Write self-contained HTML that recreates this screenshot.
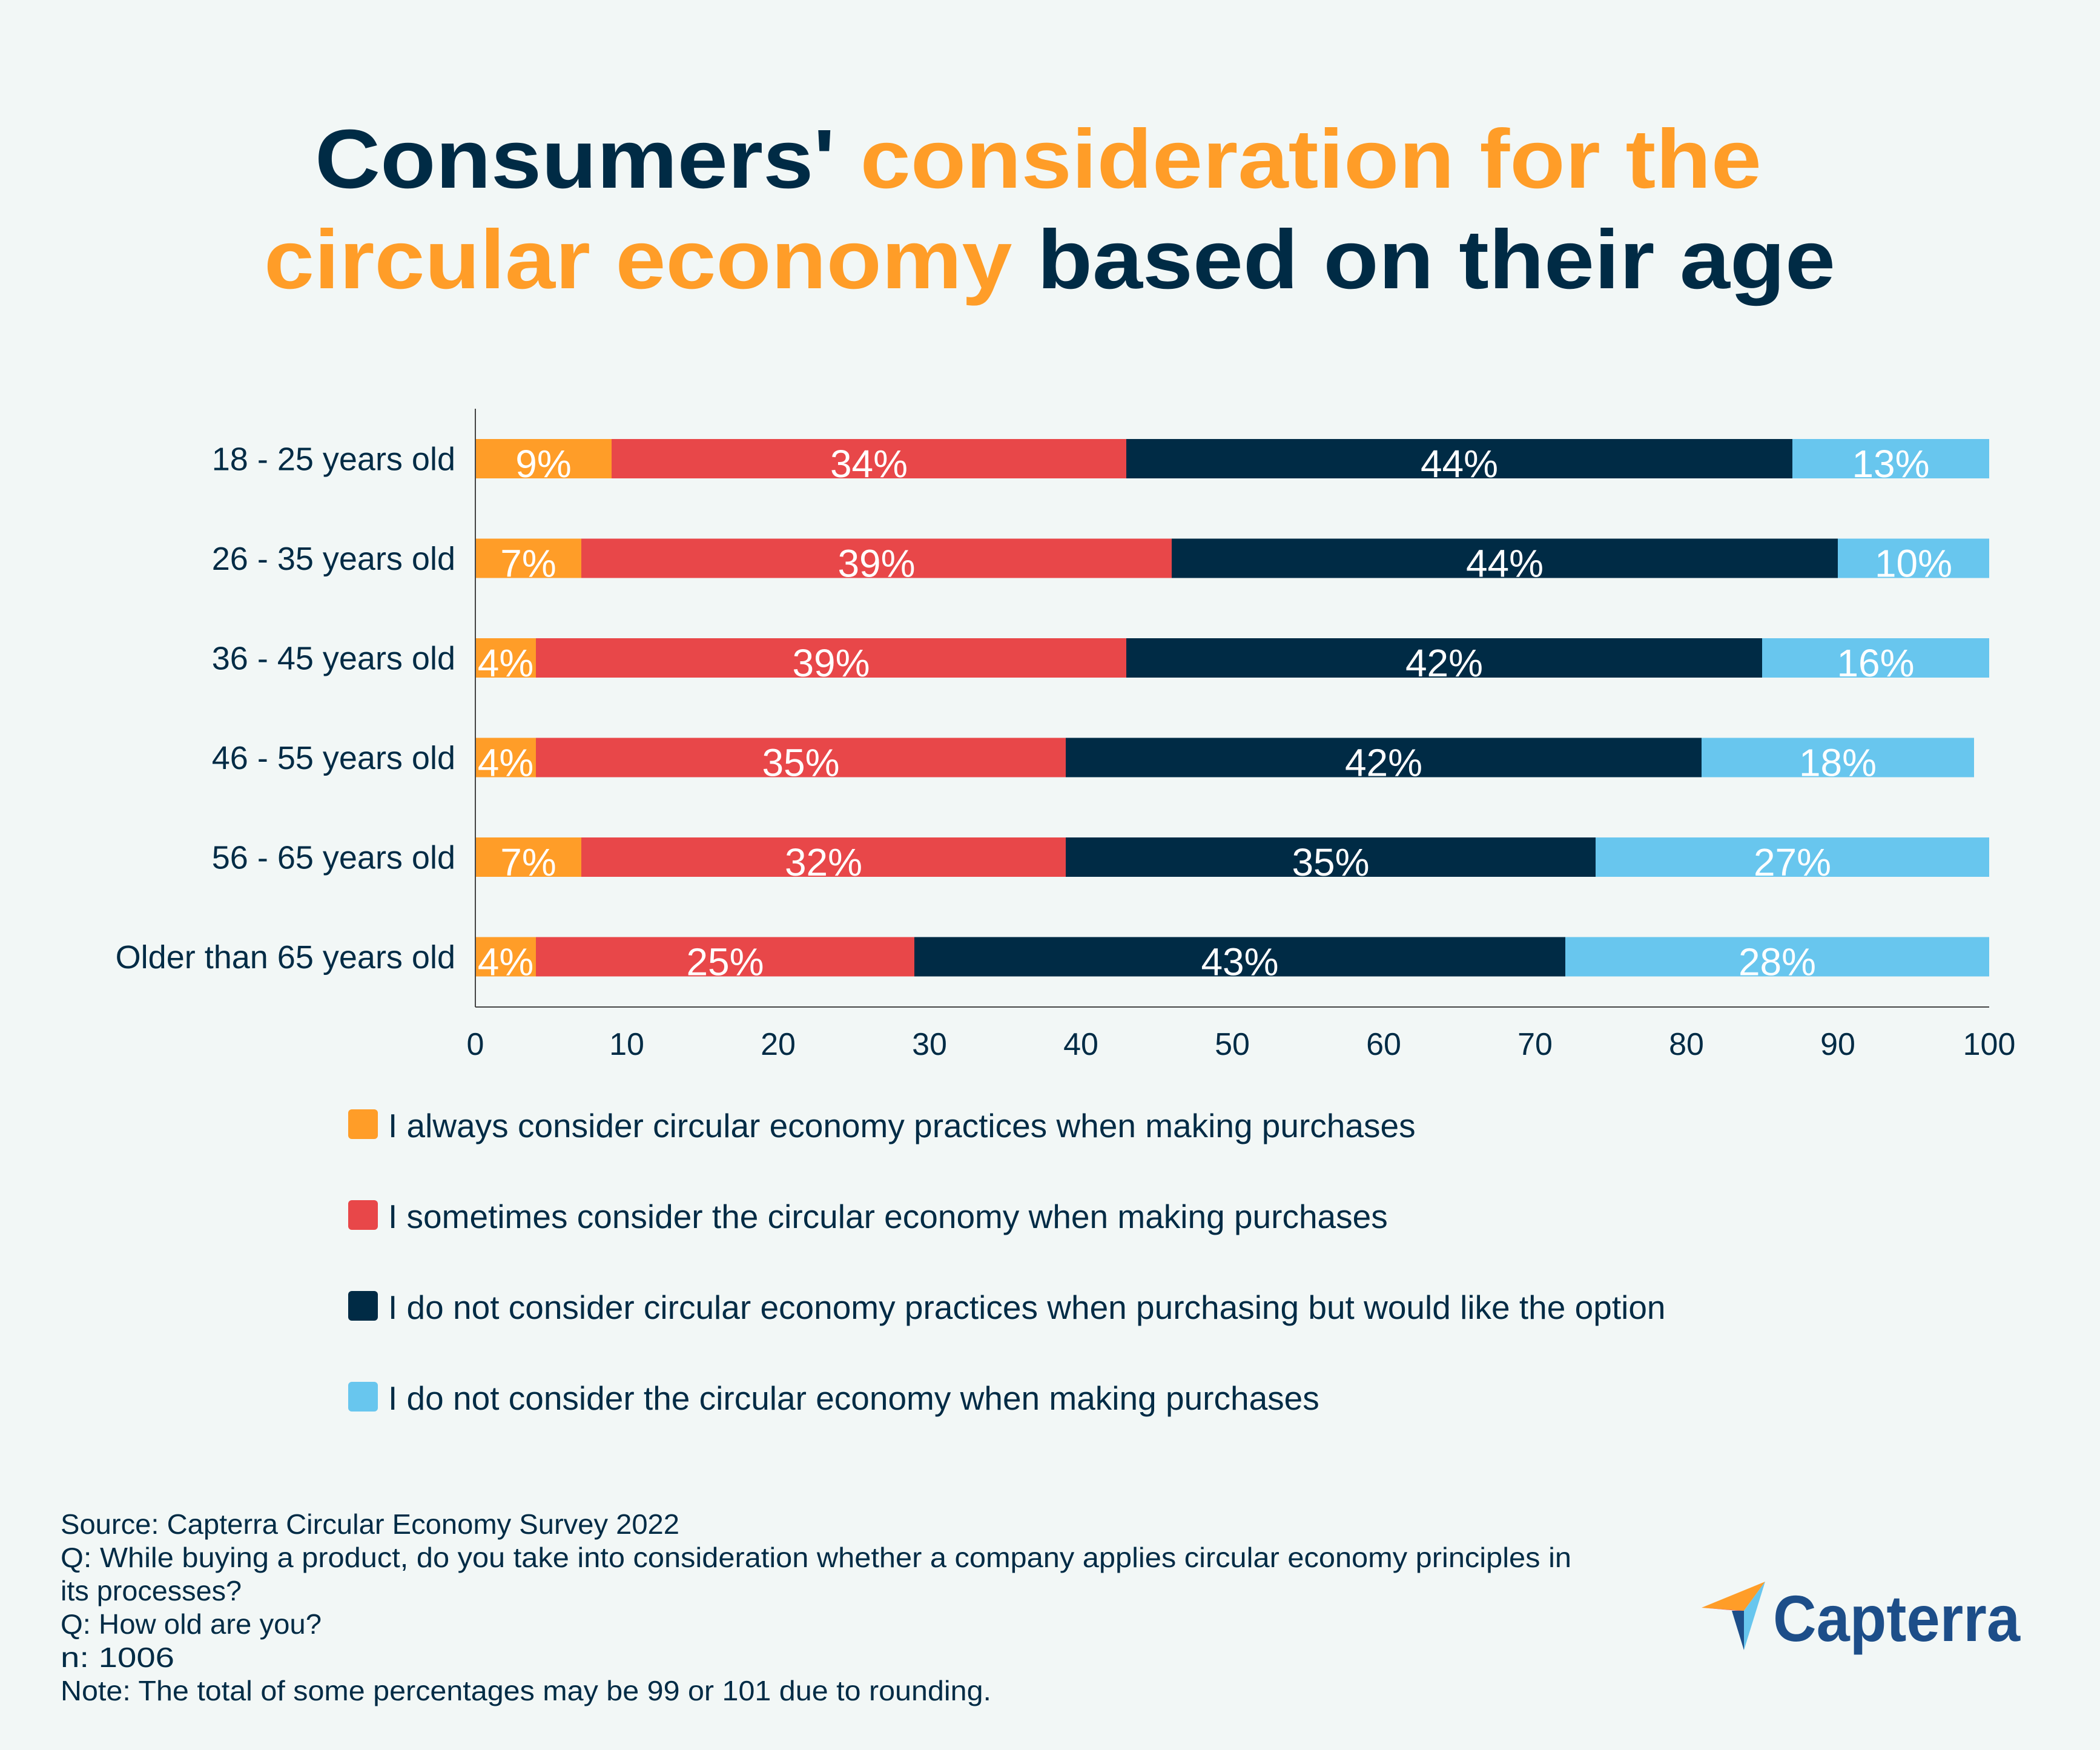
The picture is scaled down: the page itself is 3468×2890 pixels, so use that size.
<!DOCTYPE html>
<html><head><meta charset="utf-8"><style>
html,body{margin:0;padding:0;background:#f2f7f6;}
svg{display:block;font-family:"Liberation Sans",sans-serif;}
</style></head><body>
<svg id="chart" width="3468" height="2890" viewBox="0 0 3468 2890" xmlns="http://www.w3.org/2000/svg">
<rect x="0" y="0" width="3468" height="2890" fill="#f2f7f6"/>
<text x="520" y="310" font-size="138" font-weight="bold" textLength="2389" lengthAdjust="spacingAndGlyphs"><tspan fill="#002b45">Consumers'</tspan><tspan fill="#ff9d28"> consideration for the</tspan></text>
<text x="436" y="476" font-size="138" font-weight="bold" textLength="2595" lengthAdjust="spacingAndGlyphs"><tspan fill="#ff9d28">circular economy</tspan><tspan fill="#002b45"> based on their age</tspan></text>
<g id="plot"></g>
<g id="legend"></g>
<g font-size="46" fill="#002b45">
<text x="100" y="2533" textLength="1022" lengthAdjust="spacingAndGlyphs">Source: Capterra Circular Economy Survey 2022</text>
<text x="100" y="2588" textLength="2495" lengthAdjust="spacingAndGlyphs">Q: While buying a product, do you take into consideration whether a company applies circular economy principles in</text>
<text x="100" y="2643" textLength="299" lengthAdjust="spacingAndGlyphs">its processes?</text>
<text x="100" y="2698" textLength="431" lengthAdjust="spacingAndGlyphs">Q: How old are you?</text>
<text x="100" y="2753" textLength="188" lengthAdjust="spacingAndGlyphs">n: 1006</text>
<text x="100" y="2808" textLength="1537" lengthAdjust="spacingAndGlyphs">Note: The total of some percentages may be 99 or 101 due to rounding.</text>
</g>
<g>
<polygon points="2810,2655 2915,2612 2880,2660" fill="#ff9d28"/>
<polygon points="2810,2655 2880,2660 2870,2660" fill="#e84749"/>
<polygon points="2880,2660 2915,2612 2880,2725" fill="#68c6ee"/>
<polygon points="2860,2660 2880,2660 2880,2725" fill="#1d4e89"/>
<text x="2928" y="2710" font-size="108" font-weight="bold" fill="#1d4e89" textLength="408" lengthAdjust="spacingAndGlyphs">Capterra</text>
</g>
</svg>
<script>
const categories=["18 - 25 years old","26 - 35 years old","36 - 45 years old","46 - 55 years old","56 - 65 years old","Older than 65 years old"];
const alwaysVals=[9,7,4,4,7,4];
const sometimesVals=[34,39,39,35,32,25];
const wouldLikeVals=[44,44,42,42,35,43];
const notVals=[13,10,16,18,27,28];
const xTicks=[0,10,20,30,40,50,60,70,80,90,100];
const seriesNames=["I always consider circular economy practices when making purchases","I sometimes consider the circular economy when making purchases","I do not consider circular economy practices when purchasing but would like the option","I do not consider the circular economy when making purchases"];
const colors=["#ff9d28","#e84749","#002b45","#68c6ee"];
const NS="http://www.w3.org/2000/svg";
const x0=785,x1=3285,yTop=675,yBot=1663,row0=725,rowStep=164.5,barH=65;
const xs=v=>x0+(x1-x0)*v/100;
const ys=i=>row0+i*rowStep;
const plot=document.getElementById('plot');
function mk(tag,attrs,parent){const e=document.createElementNS(NS,tag);for(const k in attrs)e.setAttribute(k,attrs[k]);parent.appendChild(e);return e;}
const series=[alwaysVals,sometimesVals,wouldLikeVals,notVals];
categories.forEach((c,i)=>{
  const t=mk('text',{x:752,y:ys(i)+barH/2+19,'text-anchor':'end','font-size':54,fill:'#002b45'},plot);
  
  
  t.textContent=c;
  let cum=0;
  series.forEach((s,k)=>{
    const v=s[i];
    const a=Math.min(cum,100),b=Math.min(cum+v,100);
    const r=mk('rect',{x:xs(a),y:ys(i),width:Math.max(0,xs(b)-xs(a)),height:barH,fill:colors[k]},plot);
    
    
    const l=mk('text',{x:(xs(a)+xs(b))/2,y:ys(i)+barH-2,'text-anchor':'middle','font-size':64,fill:'#ffffff'},plot);
    
    
    l.textContent=v+'%';
    cum+=v;
  });
});
const ax=mk('line',{x1:x0,y1:yTop,x2:x0,y2:yBot,stroke:'#444',"stroke-width":2},plot);


const bx=mk('line',{x1:x0,y1:yBot,x2:x1,y2:yBot,stroke:'#444',"stroke-width":2},plot);


xTicks.forEach(v=>{
  const t=mk('text',{x:xs(v),y:1742,'text-anchor':'middle','font-size':52,fill:'#002b45'},plot);
  
  
  t.textContent=v;
});
const lg=document.getElementById('legend');
seriesNames.forEach((n,k)=>{
  const y=1832+k*150;
  const r=mk('rect',{x:575,y:y,width:49,height:49,rx:6,fill:colors[k]},lg);
  
  
  const t=mk('text',{x:641,y:y+46,'font-size':55,fill:'#002b45'},lg);
  
  
  t.textContent=n;
});
</script>
</body></html>
